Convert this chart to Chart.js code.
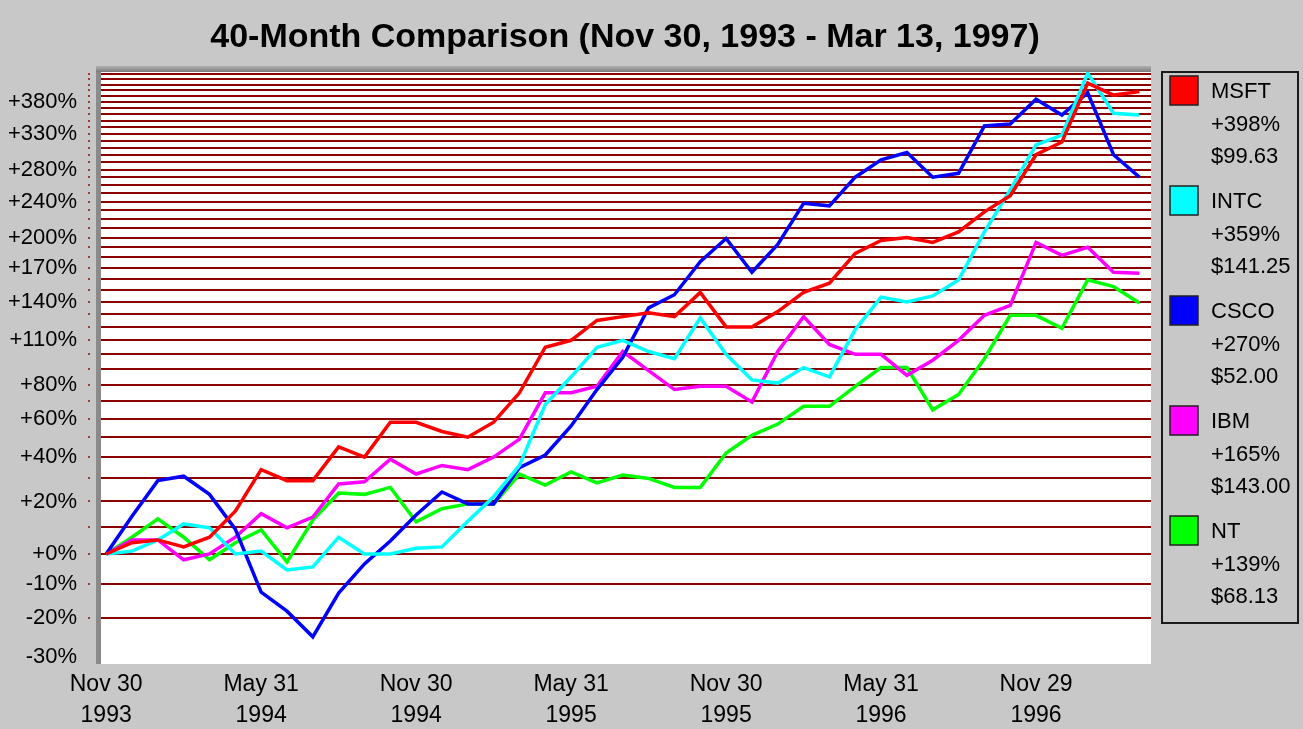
<!DOCTYPE html>
<html><head><meta charset="utf-8">
<script src="https://cdn.jsdelivr.net/npm/chart.js@4"></script>
<style>html,body{margin:0;padding:0;background:#c8c8c8;overflow:hidden}canvas{display:block}</style>
</head><body>
<canvas id="c" width="1303" height="729"></canvas>
<script>
const titleText = '40-Month Comparison (Nov 30, 1993 - Mar 13, 1997)';
const tickers = ['MSFT', 'INTC', 'CSCO', 'IBM', 'NT'];
const lastPrices = [99.63, 141.25, 52.00, 143.00, 68.13];
const seriesColors = ['#ff0000', '#00ffff', '#0000ff', '#ff00ff', '#00ff00'];

// monthly % change since Nov 30, 1993 (index 0) to Mar 13, 1997 (index 40)
const msft = [0,4,5,2.5,6,16,34,29,29,45,40,58,58,53,50,58,75,105,110,125,128,131,128,148,120,120,132,148,156,184,197,200,195,206,228,247,300,318,413,392,398];
const intc = [0,1,5,11,9.5,0,1,-5.4,-4.4,6,0,0,2,2.5,12,22,36,68,85,105,110,102,97,127,100,83,81,91,85,118,144,140,145,159,206,254,314,328,431,362,359];
const csco = [0,14,29,31,23,9,-12.4,-18,-25,-12.7,-3.4,4.6,14.5,24,19,19,35,41,56,77,98,135,146,176,199,166,193,238,235,270,293,303,270,275,342,345,385,359,396,300,270];
const ibm  = [0,5,5,-2,0,6,15,9.5,13.7,27.5,28.5,39,32,36,34,40,49,75,75,79,102,89,77,79,79,69.5,102,128,107,100,100,86,96,110,129,137,195,182,190,166,165];
const nt   = [0,6,13,6,-2,4,8.7,-2.7,12.5,23.6,23,26,11.8,17,19,19,32,27,33,28,31.5,30,26,26,42,51,57,67,67,79,91,91,65,74,97,129,129,119,159,153,139];
const series = [msft, intc, csco, ibm, nt];

const xTickPositions = [0, 6, 12, 18, 24, 30, 36];
const xTickLabels = [['Nov 30','1993'],['May 31','1994'],['Nov 30','1994'],['May 31','1995'],['Nov 30','1995'],['May 31','1996'],['Nov 29','1996']];

const gridPcts = [-30,-20,-10,0,10,20,30,40,50,60,70,80,90,100,110,120,130,140,150,160,170,180,190,200,210,220,230,240,250,260,270,280,290,300,310,320,330,340,350,360,370,380,390,400,410,420,430];
const labeledPcts = [-30,-20,-10,0,20,40,60,80,110,140,170,200,240,280,330,380];

const FONT = "'Liberation Sans', Arial, Helvetica, sans-serif";
const pctOf = v => Math.round((v - 1) * 100);

const bgPlugin = {
  id: 'bg',
  beforeDraw(chart) {
    const ctx = chart.ctx, a = chart.chartArea;
    ctx.save();
    ctx.fillStyle = '#c8c8c8';
    ctx.fillRect(0, 0, chart.width, chart.height);
    ctx.fillStyle = '#ffffff';
    ctx.fillRect(a.left, a.top, a.right - a.left, a.bottom - a.top);
    const g = ctx.createLinearGradient(0, a.top - 6, 0, a.top);
    g.addColorStop(0, '#b0b0b0');
    g.addColorStop(1, '#7c7c7c');
    ctx.fillStyle = g;
    ctx.fillRect(a.left - 5, a.top - 6, a.right - a.left + 5, 6);
    ctx.fillStyle = '#8a8a8a';
    ctx.fillRect(a.left - 5, a.top, 5, a.bottom - a.top);
    ctx.restore();
  }
};

const overlayPlugin = {
  id: 'overlay',
  afterDraw(chart) {
    const ctx = chart.ctx, ys = chart.scales.y;
    ctx.save();
    // title
    ctx.fillStyle = '#000';
    ctx.font = 'bold 34px ' + FONT;
    ctx.textAlign = 'center';
    ctx.textBaseline = 'middle';
    ctx.fillText(titleText, 625, 38);
    // dotted tick marks
    ctx.fillStyle = '#a03a3a';
    gridPcts.forEach(p => {
      if (p === -30) return;
      const y = Math.round(ys.getPixelForValue(1 + p / 100));
      ctx.fillRect(88, y - 1, 2, 2);
    });
    // legend box
    ctx.strokeStyle = '#1a1a1a';
    ctx.lineWidth = 2;
    ctx.strokeRect(1162, 72, 136, 551);
    ctx.font = '22px ' + FONT;
    ctx.textAlign = 'left';
    tickers.forEach((t, k) => {
      const top = 76 + k * 110;
      ctx.fillStyle = seriesColors[k];
      ctx.fillRect(1170, top, 28, 29);
      ctx.strokeStyle = '#202020';
      ctx.lineWidth = 1.5;
      ctx.strokeRect(1170, top, 28, 29);
      const last = series[k][series[k].length - 1];
      ctx.fillStyle = '#000';
      ctx.fillText(t, 1211, top + 16);
      ctx.fillText((last >= 0 ? '+' : '') + Math.round(last) + '%', 1211, top + 49);
      ctx.fillText('$' + lastPrices[k].toFixed(2), 1211, top + 81);
    });
    ctx.restore();
  }
};

new Chart(document.getElementById('c'), {
  type: 'line',
  data: {
    datasets: series.map((s, k) => ({
      label: tickers[k],
      data: s.map((v, i) => ({ x: i, y: 1 + v / 100 })),
      borderColor: seriesColors[k],
      backgroundColor: seriesColors[k],
      borderWidth: 3.5,
      pointRadius: 0,
      tension: 0,
      fill: false
    }))
  },
  options: {
    responsive: false,
    animation: false,
    layout: { padding: { top: 72, right: 152, left: 0, bottom: 0 } },
    plugins: { legend: { display: false }, title: { display: false }, tooltip: { enabled: false } },
    scales: {
      x: {
        type: 'linear', min: -0.2, max: 40.45, bounds: 'data',
        afterBuildTicks: s => { s.ticks = xTickPositions.map(v => ({ value: v })); },
        afterFit: s => { s.height = 65; },
        grid: { display: false }, border: { display: false },
        ticks: { autoSkip: false, maxRotation: 0, padding: -3, color: '#000',
          font: { family: FONT, size: 23, lineHeight: 1.35 },
          callback: (v, i) => xTickLabels[i] }
      },
      y: {
        type: 'logarithmic', min: 0.6825, max: 5.331, bounds: 'data',
        afterBuildTicks: s => { s.ticks = gridPcts.map(p => ({ value: 1 + p / 100 })); },
        afterFit: s => { s.width = 101; },
        grid: {
          color: c => (c.tick && pctOf(c.tick.value) === -30) ? 'rgba(0,0,0,0)' : '#8b0000',
          lineWidth: 2, drawTicks: false
        },
        border: { display: false },
        ticks: { autoSkip: false, padding: 24, color: '#000',
          font: { family: FONT, size: 22 },
          callback: v => { const p = pctOf(v); return labeledPcts.includes(p) ? (p >= 0 ? '+' : '') + p + '%' : ''; } }
      }
    }
  },
  plugins: [bgPlugin, overlayPlugin]
});
</script>
</body></html>
